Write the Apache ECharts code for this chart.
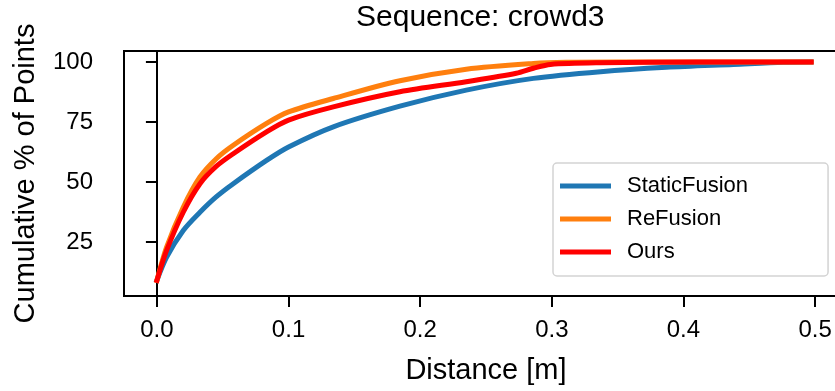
<!DOCTYPE html>
<html>
<head>
<meta charset="utf-8">
<script src="https://cdn.jsdelivr.net/npm/echarts@6/dist/echarts.min.js"></script>
<style>
  html, body { margin: 0; padding: 0; background: #fff; }
  #chart { width: 835px; height: 391px; }
</style>
</head>
<body>
<div id="chart"></div>
<script>
// ---- data ----
const titleText = 'Sequence: crowd3';
const xName = 'Distance [m]';
const yName = 'Cumulative % of Points';
const seriesNames = ['StaticFusion', 'ReFusion', 'Ours'];

const xTicks = [0, 0.1, 0.2, 0.3, 0.4, 0.5];
const yTicks = [25, 50, 75, 100];

const staticFusionX = [0, 0.0073, 0.02, 0.0327, 0.045, 0.058, 0.0833, 0.1, 0.134, 0.1846, 0.235, 0.286, 0.337, 0.387, 0.438, 0.476, 0.497];
const staticFusionY = [9, 18.6, 29.8, 37.4, 43.8, 49.3, 59.0, 64.6, 73.0, 81.6, 88.3, 93.2, 96.0, 97.8, 99.0, 99.9, 100];

const reFusionX = [0, 0.0073, 0.02, 0.0327, 0.0453, 0.058, 0.0833, 0.1, 0.134, 0.1846, 0.235, 0.286, 0.311, 0.35, 0.497];
const reFusionY = [9, 22.8, 39.5, 52.1, 59.8, 65.3, 74.4, 79.2, 84.8, 92.2, 97.0, 99.4, 99.9, 100, 100];

const oursX = [0, 0.0073, 0.02, 0.0327, 0.045, 0.058, 0.0833, 0.1, 0.134, 0.1846, 0.235, 0.273, 0.286, 0.299, 0.337, 0.41, 0.497];
const oursY = [9, 21.4, 37.4, 49.3, 56.5, 61.8, 70.9, 75.8, 81.3, 87.6, 91.8, 95.3, 97.4, 99.0, 99.7, 100, 100];

const colors = ['#1f77b4', '#ff7f0e', '#ff0000'];

// ---- build ----
const zip = (xs, ys) => xs.map((x, i) => [x, ys[i]]);
const seriesData = [zip(staticFusionX, staticFusionY), zip(reFusionX, reFusionY), zip(oursX, oursY)];
const FONT = 'Liberation Sans, Arial, Helvetica, sans-serif';

const chart = echarts.init(document.getElementById('chart'), null, { renderer: 'canvas' });
chart.setOption({
  animation: false,
  backgroundColor: '#fff',
  title: {
    text: titleText,
    left: 356, top: 3, padding: 0,
    textStyle: { fontFamily: FONT, fontSize: 30, fontWeight: 'normal', color: '#000' }
  },
  grid: {
    left: 124, top: 51, width: 724, height: 245,
    outerBoundsMode: 'none', containLabel: false,
    show: true, borderColor: '#000', borderWidth: 2, backgroundColor: '#fff'
  },
  legend: {
    orient: 'vertical',
    left: 553, top: 163,
    data: seriesNames,
    icon: 'rect',
    itemWidth: 51, itemHeight: 5,
    itemGap: 9,
    padding: [11, 80, 12, 7],
    backgroundColor: '#fff',
    borderColor: '#d3d3d3', borderWidth: 1.5, borderRadius: 4,
    textStyle: { fontFamily: FONT, fontSize: 22, color: '#000', lineHeight: 24, padding: [0, 0, 0, 11] }
  },
  xAxis: {
    type: 'value',
    min: -0.025, max: 0.525,
    name: xName, nameLocation: 'middle', nameGap: 60,
    nameTextStyle: { fontFamily: FONT, fontSize: 29, color: '#000' },
    axisLine: { show: true, lineStyle: { color: '#000', width: 2 } },
    axisTick: { show: true, inside: false, length: 11, lineStyle: { color: '#000', width: 2 }, customValues: xTicks },
    axisLabel: { margin: 22, fontFamily: FONT, fontSize: 24, color: '#000', customValues: xTicks,
      formatter: v => v.toFixed(1) },
    splitLine: { show: false }
  },
  yAxis: {
    type: 'value',
    min: 2.5, max: 104.6,
    name: yName, nameLocation: 'middle', nameGap: 84,
    nameTextStyle: { fontFamily: FONT, fontSize: 29, color: '#000' },
    axisLine: { show: true, lineStyle: { color: '#000', width: 2 } },
    axisTick: { show: true, inside: false, length: 11, lineStyle: { color: '#000', width: 2 }, customValues: yTicks },
    axisLabel: { margin: 31, fontFamily: FONT, fontSize: 24, color: '#000', customValues: yTicks },
    splitLine: { show: false }
  },
  series: seriesNames.map((name, i) => ({
    name,
    type: 'line',
    data: seriesData[i],
    showSymbol: false,
    symbol: 'none',
    smooth: 0.3,
    color: colors[i],
    lineStyle: { color: colors[i], width: 5, cap: 'square' },
    z: 2 + i
  }))
});
</script>
</body>
</html>
